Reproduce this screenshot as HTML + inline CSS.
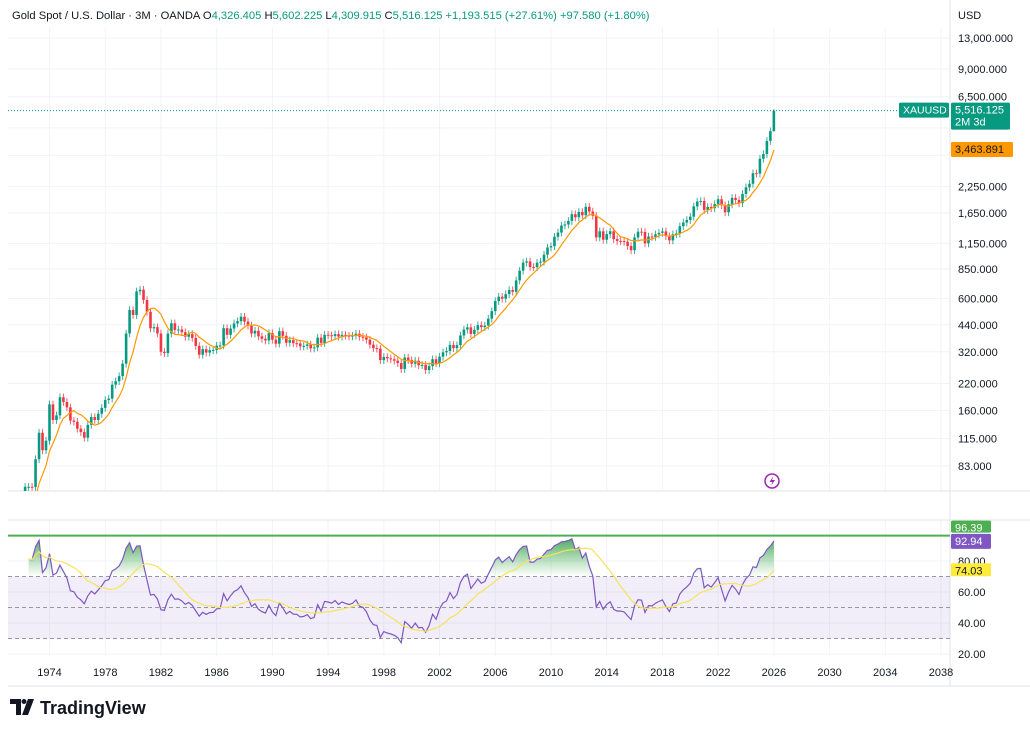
<!DOCTYPE html>
<html><head><meta charset="utf-8">
<style>
body{margin:0;background:#fff;font-family:"Liberation Sans",sans-serif;}
#wrap{position:relative;width:1030px;height:731px;overflow:hidden;background:#fff;}
svg text{font-family:"Liberation Sans",sans-serif;}
</style></head>
<body>
<div id="wrap">
<svg id="svg" width="1030" height="731" xmlns="http://www.w3.org/2000/svg"></svg>
</div>
<script>
// ---- data (quarterly closes, USD/oz) ----
const startYear = 1969;
const closes = [
42,41,41,35, 35.5,35.5,36,37.4, 38.9,40.1,42,43.5, 48,65,65,64.9,
90,123,100,112, 172,143,151,187, 177,166,142,140, 129,124,116,135,
148,143,154,165, 181,184,217,226, 240,278,397,524, 494,653,666,590,
513,422,428,397, 320,315,397,448, 414,416,403,382, 394,377,343,309,
330,317,326,327, 344,345,423,391, 421,447,459,484, 457,436,397,410,
384,373,366,399, 369,352,408,386, 356,367,354,353, 341,343,349,333,
337,378,355,391, 389,385,394,383, 391,387,384,387, 396,382,379,369,
348,334,332,290, 301,296,293,288, 280,261,299,290, 278,288,273,274,
258,270,293,279, 302,318,323,347, 334,346,388,416, 427,395,415,438,
428,436,473,517, 582,613,599,632, 663,650,743,834, 917,930,871,870,
916,927,1007,1096, 1113,1244,1307,1421, 1439,1500,1624,1565, 1668,1604,1772,1675,
1595,1234,1327,1201, 1283,1327,1210,1184, 1183,1172,1115,1061, 1234,1321,1316,1151,
1248,1242,1280,1303, 1325,1253,1192,1282, 1292,1409,1472,1517, 1577,1781,1886,1898,
1708,1770,1743,1829, 1937,1807,1661,1824, 1969,1919,1849,2063, 2230,2326,2634,2624,
3124,3303,3858,4326, 5516.125
];
const lastHigh = 5602.225, lastLow = 4309.915;
const priceTicks = ["13,000.000","9,000.000","6,500.000","4,500.000","3,250.000","2,250.000","1,650.000","1,150.000","850.000","600.000","440.000","320.000","220.000","160.000","115.000","83.000"];
const priceTickVals = [13000,9000,6500,4500,3250,2250,1650,1150,850,600,440,320,220,160,115,83];
const yearTicks = [1974,1978,1982,1986,1990,1994,1998,2002,2006,2010,2014,2018,2022,2026,2030,2034,2038];
const rsiTicks = [80,60,40,20];
const rsiLevels = [70,50,30];

const svg = document.getElementById('svg');
const NS = 'http://www.w3.org/2000/svg';
function mk(tag, attrs, parent){const e=document.createElementNS(NS,tag);for(const k in attrs)e.setAttribute(k,attrs[k]);(parent||svg).appendChild(e);return e;}

const xOf = t => 49.5 + (t-1974)*13.93;
const yP = p => 38 + 84.7*Math.log(13000/p);
const yR = v => 561 + (80-v)*1.55;
const PL=8, PR=950, MT=28, MB=491, RT=520, RB=648;

const defs = mk('defs',{});
const c1 = mk('clipPath',{id:'cm'},defs); mk('rect',{x:PL,y:MT,width:PR-PL,height:MB-MT},c1);
const c2 = mk('clipPath',{id:'cr'},defs); mk('rect',{x:PL,y:RT,width:PR-PL,height:RB-RT},c2);
const lg = mk('linearGradient',{id:'gg',x1:0,y1:0,x2:0,y2:1},defs);
mk('stop',{offset:'0','stop-color':'#2e9d45','stop-opacity':'0.85'},lg);
mk('stop',{offset:'1','stop-color':'#4caf50','stop-opacity':'0'},lg);

const grid = mk('g',{stroke:'#f0f3fa','stroke-width':1});
 
yearTicks.forEach(y=>{const x=xOf(y);mk('line',{x1:x,x2:x,y1:MT,y2:MB},grid);mk('line',{x1:x,x2:x,y1:RT,y2:RB+8},grid);});
priceTickVals.forEach(p=>{const y=yP(p);mk('line',{x1:PL,x2:PR,y1:y,y2:y},grid);});
rsiTicks.forEach(v=>{const y=yR(v);mk('line',{x1:PL,x2:PR,y1:y,y2:y},grid);});

mk('line',{x1:PL,x2:1030,y1:MB,y2:MB,stroke:'#e0e3eb'});
mk('line',{x1:PL,x2:1030,y1:RT,y2:RT,stroke:'#e0e3eb'});
mk('line',{x1:PR,x2:PR,y1:0,y2:RB+38,stroke:'#e0e3eb'});
mk('line',{x1:PL,x2:1030,y1:RB+38,y2:RB+38,stroke:'#e0e3eb'});

const N = closes.length;
const tOf = i => startYear + i/4;
const cg = mk('g',{'clip-path':'url(#cm)'});
 
for(let i=1;i<N;i++){
  const o=closes[i-1], c=closes[i];
  const hi = i===N-1 ? lastHigh : Math.max(o,c)*1.045;
  const lo = i===N-1 ? lastLow : Math.min(o,c)*0.955;
  const col = c>=o ? '#089981' : '#f23645';
  const x = xOf(tOf(i));
  const w = mk('line',{x1:x,x2:x,y1:yP(hi),y2:yP(lo),stroke:col,'stroke-width':1,opacity:0.8},cg);
   
  const yt=yP(Math.max(o,c)), yb=yP(Math.min(o,c));
  const b = mk('rect',{x:x-1.3,y:yt,width:2.6,height:Math.max(1,yb-yt),fill:col},cg);
   
}
const maP=8; let pts=[]; let maLast=0;
for(let i=maP-1;i<N;i++){let s=0;for(let k=0;k<maP;k++)s+=closes[i-k];const m=s/maP;maLast=m;pts.push(xOf(tOf(i)).toFixed(1)+','+yP(m).toFixed(1));}
const ma = mk('polyline',{points:pts.join(' '),fill:'none',stroke:'#ff9800','stroke-width':1.2,'clip-path':'url(#cm)'});
 

const yl=yP(closes[N-1]);
const pl=mk('line',{x1:PL,x2:PR,y1:yl,y2:yl,stroke:'#089981','stroke-dasharray':'1 2','stroke-width':1});
 

const rp=14; const rsi=new Array(N).fill(null);
let ag=0, al=0;
for(let i=1;i<=rp;i++){const d=closes[i]-closes[i-1]; if(d>0)ag+=d; else al-=d;}
ag/=rp; al/=rp; rsi[rp]=100-100/(1+ag/Math.max(al,1e-9));
for(let i=rp+1;i<N;i++){const d=closes[i]-closes[i-1];ag=(ag*(rp-1)+Math.max(d,0))/rp;al=(al*(rp-1)+Math.max(-d,0))/rp;rsi[i]=100-100/(1+ag/Math.max(al,1e-9));}
const rma=new Array(N).fill(null);
for(let i=rp;i<N;i++){let s=0,n=0;for(let k=0;k<14&&i-k>=rp;k++){s+=rsi[i-k];n++;}rma[i]=s/n;}

const rg = mk('g',{'clip-path':'url(#cr)'});
 
const band=mk('rect',{x:PL,y:yR(70),width:PR-PL,height:yR(30)-yR(70),fill:'#7e57c2','fill-opacity':0.1},rg);
 
rsiLevels.forEach(v=>{const l=mk('line',{x1:PL,x2:PR,y1:yR(v),y2:yR(v),stroke:'#9598a1','stroke-dasharray':'4 3','stroke-width':1},rg);
  });
let fillPath='';
for(let i=rp;i<N;i++){
  const v=Math.max(rsi[i],70);
  fillPath += (i===rp?'M':'L')+xOf(tOf(i)).toFixed(1)+','+yR(v).toFixed(1);
}
fillPath += 'L'+xOf(tOf(N-1)).toFixed(1)+','+yR(70)+'L'+xOf(tOf(rp)).toFixed(1)+','+yR(70)+'Z';
const of=mk('path',{d:fillPath,fill:'url(#gg)'},rg);
 
let rpts=[]; for(let i=rp;i<N;i++) rpts.push(xOf(tOf(i)).toFixed(1)+','+yR(rsi[i]).toFixed(1));
const rl=mk('polyline',{points:rpts.join(' '),fill:'none',stroke:'#7e57c2','stroke-width':1.2},rg);
 
let mpts=[]; for(let i=0;i<N;i++) if(rma[i]!==null) mpts.push(xOf(tOf(i)).toFixed(1)+','+yR(rma[i]).toFixed(1));
const ml=mk('polyline',{points:mpts.join(' '),fill:'none',stroke:'#f5e35a','stroke-width':1.2},rg);
 
const gl=mk('line',{x1:PL,x2:PR,y1:yR(96.39),y2:yR(96.39),stroke:'#4caf50','stroke-width':2});
 

priceTickVals.forEach((p,i)=>{ if(p===4500||p===3250) return; const t=mk('text',{x:958,y:yP(p)+4,'font-size':11,fill:'#131722'});t.textContent=priceTicks[i];
  });
rsiTicks.forEach(v=>{const t=mk('text',{x:958,y:yR(v)+4,'font-size':11,fill:'#131722'});t.textContent=v.toFixed(2);
  });
yearTicks.forEach(y=>{const t=mk('text',{x:xOf(y),y:676,'font-size':11,fill:'#131722','text-anchor':'middle'});t.textContent=y;
  });

function tag(x,y,w,h,bg,fg,txt,name,fs){const g=mk('g',{});
 mk('rect',{x:x,y:y,width:w,height:h,fill:bg,rx:1.5},g);
 txt.forEach((s,k)=>{const t=mk('text',{x:x+4,y:y+11+k*12,'font-size':fs||11,fill:fg},g);t.textContent=s;});}
tag(899,yl-8,50,15,'#089981','#fff',['XAUUSD'],'symbol-tag',10.5);
tag(951,yl-8,59,27,'#089981','#fff',[closes[N-1].toFixed(3).replace(/\B(?=(\d{3})+(?!\d))/,','),'2M 3d'],'last-price-tag');
tag(951,yP(maLast)-8,62,15,'#ff9800','#131722',[maLast.toFixed(3).replace(/\B(?=(\d{3})+(?!\d))/,',')],'ma-tag');
tag(951,yR(96.39)-15,40,12,'#4caf50','#fff',['96.39'],'hline-tag');
tag(951,yR(rsi[N-1])-7,40,15,'#7e57c2','#fff',[rsi[N-1].toFixed(2)],'rsi-value-tag');
tag(951,yR(rma[N-1])-7,40,13,'#ffeb3b','#131722',[rma[N-1].toFixed(2)],'rsi-ma-tag');

const h=mk('text',{x:12,y:19,'font-size':11.2,fill:'#131722'});
 
h.setAttribute('xml:space','preserve');
h.innerHTML='Gold Spot / U.S. Dollar · 3M · OANDA  O<tspan fill="#089981">4,326.405</tspan>  H<tspan fill="#089981">5,602.225</tspan>  L<tspan fill="#089981">4,309.915</tspan>  C<tspan fill="#089981">5,516.125  +1,193.515 (+27.61%)  +97.580 (+1.80%)</tspan>';
const u=mk('text',{x:958,y:19,'font-size':11,fill:'#131722'});u.textContent='USD';
 

const li=mk('g',{});
mk('circle',{cx:772,cy:481,r:7,fill:'#fff',stroke:'#9c27b0','stroke-width':1.5},li);
mk('path',{d:'M773.5,476 L769.5,482 L772.5,482 L771,486 L775,480 L772,480 Z',fill:'#9c27b0'},li);

const lo=mk('g',{});
mk('path',{d:'M10,699 h11 v16 h-5 v-11 h-6 Z',fill:'#131722'},lo);
mk('circle',{cx:24,cy:701.5,r:2.5,fill:'#131722'},lo);
mk('path',{d:'M28,699 h6 l-6,16 h-6 Z',fill:'#131722'},lo);
const lt=mk('text',{x:40,y:714,'font-size':18,'font-weight':'bold',fill:'#131722'},lo);lt.textContent='TradingView';
</script>
</body></html>
